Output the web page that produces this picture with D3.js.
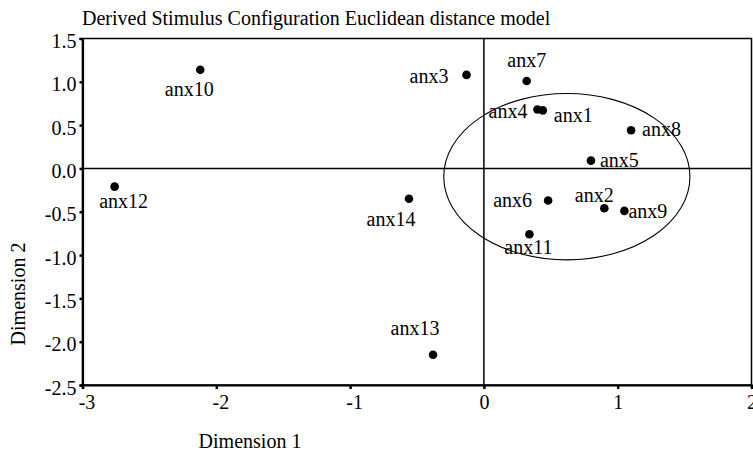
<!DOCTYPE html>
<html>
<head>
<meta charset="utf-8">
<script src="https://cdn.jsdelivr.net/npm/d3@7"></script>
<style>
  body { margin: 0; background: #fff; }
  svg text { font-family: "Liberation Serif", "Times New Roman", serif !important; fill: #000; }
</style>
</head>
<body>
<svg id="chart"></svg>
<script>
// stimulus names and their coordinates in the two dimensions
var names = ["anx1","anx2","anx3","anx4","anx5","anx6","anx7","anx8","anx9","anx10","anx11","anx12","anx13","anx14"];
var dim1 = [0.44, 0.90, -0.13, 0.40, 0.80, 0.48, 0.32, 1.10, 1.05, -2.12, 0.34, -2.76, -0.38, -0.56];
var dim2 = [0.67, -0.46, 1.08, 0.68, 0.09, -0.37, 1.01, 0.44, -0.49, 1.14, -0.76, -0.21, -2.15, -0.35];

var xTicks = [-3, -2, -1, 0, 1, 2];
var yTicks = [1.5, 1.0, 0.5, 0.0, -0.5, -1.0, -1.5, -2.0, -2.5];

// hand drawn cluster ellipse (centre and radii in data units)
var ellipseCenter = [0.62, -0.095];
var ellipseRadius = [0.92, 0.96];

var width = 753, height = 453;
var serif = '"Liberation Serif", "Times New Roman", serif';
var svg = d3.select("#chart").attr("width", width).attr("height", height);

var x = d3.scaleLinear().domain([-3, 2]).range([82.5, 751.5]);
var y = d3.scaleLinear().domain([-2.5, 1.5]).range([385, 38.5]);

// plain hyphen instead of the unicode minus
var fmt = d3.formatLocale({decimal: ".", thousands: ",", grouping: [3], currency: ["", ""], minus: "-"});

// where each label sits relative to its dot: [dx, dy, anchor]
var labelPos = {
  anx1: [11, 12, "start"], anx2: [-10, -6, "middle"], anx3: [-18, 8, "end"],
  anx4: [-10, 8, "end"], anx5: [9, 6, "start"], anx6: [-16, 7, "end"],
  anx7: [0, -14, "middle"], anx8: [11, 6, "start"], anx9: [4, 7, "start"],
  anx10: [-11, 26, "middle"], anx11: [-1, 20, "middle"], anx12: [9, 21, "middle"],
  anx13: [-18, -20, "middle"], anx14: [-18, 27, "middle"]
};

// title
svg.append("text").attr("x", 82).attr("y", 25)
  .style("font-size", "20px").style("font-family", serif)
  .text("Derived Stimulus Configuration Euclidean distance model");

// frame
svg.append("rect")
  .attr("x", x(-3)).attr("y", y(1.5))
  .attr("width", x(2) - x(-3)).attr("height", y(-2.5) - y(1.5))
  .attr("fill", "none").attr("stroke", "#000").attr("stroke-width", 1.5);

// zero lines
svg.append("line").attr("x1", x(-3)).attr("x2", x(2)).attr("y1", y(0)).attr("y2", y(0))
  .attr("stroke", "#000").attr("stroke-width", 1.5);
svg.append("line").attr("x1", x(0)).attr("x2", x(0)).attr("y1", y(1.5)).attr("y2", y(-2.5))
  .attr("stroke", "#000").attr("stroke-width", 1.5);

// axes
var xAxis = svg.append("g").attr("transform", "translate(0," + y(-2.5) + ")")
  .call(d3.axisBottom(x).tickValues(xTicks).tickSize(4).tickPadding(6).tickFormat(fmt.format("d")));
var yAxis = svg.append("g").attr("transform", "translate(" + x(-3) + ",0)")
  .call(d3.axisLeft(y).tickValues(yTicks).tickSize(3).tickPadding(3).tickFormat(fmt.format(".1f")));

[xAxis, yAxis].forEach(function(a) {
  a.attr("font-family", serif).attr("font-size", 20);
  a.select(".domain").attr("stroke-width", 2.2);
  a.selectAll(".tick line").attr("stroke-width", 2.5);
  a.selectAll(".tick text").style("font-size", "20px").style("font-family", serif);
});
xAxis.selectAll(".tick text").attr("dx", function(d) { return d < 0 ? 4 : 0; });
yAxis.selectAll(".tick text").attr("dy", "0.45em");

// axis titles
svg.append("text").attr("x", 250).attr("y", 448).attr("text-anchor", "middle")
  .style("font-size", "20px").style("font-family", serif).text("Dimension 1");
svg.append("text").attr("transform", "translate(25,294) rotate(-90)").attr("text-anchor", "middle")
  .style("font-size", "20px").style("font-family", serif).text("Dimension 2");

// ellipse
svg.append("ellipse")
  .attr("cx", x(ellipseCenter[0])).attr("cy", y(ellipseCenter[1]))
  .attr("rx", x(ellipseCenter[0] + ellipseRadius[0]) - x(ellipseCenter[0]))
  .attr("ry", y(ellipseCenter[1]) - y(ellipseCenter[1] + ellipseRadius[1]))
  .attr("fill", "none").attr("stroke", "#000").attr("stroke-width", 1.1);

var points = names.map(function(n, i) { return { name: n, d1: dim1[i], d2: dim2[i] }; });

svg.append("g").selectAll("circle").data(points).enter().append("circle")
  .attr("cx", function(d) { return x(d.d1); })
  .attr("cy", function(d) { return y(d.d2); })
  .attr("r", 4.3).attr("fill", "#000");

svg.append("g").selectAll("text").data(points).enter().append("text")
  .attr("x", function(d) { return x(d.d1) + labelPos[d.name][0]; })
  .attr("y", function(d) { return y(d.d2) + labelPos[d.name][1]; })
  .attr("text-anchor", function(d) { return labelPos[d.name][2]; })
  .style("font-size", "20px").style("font-family", serif)
  .text(function(d) { return d.name; });
</script>
</body>
</html>
